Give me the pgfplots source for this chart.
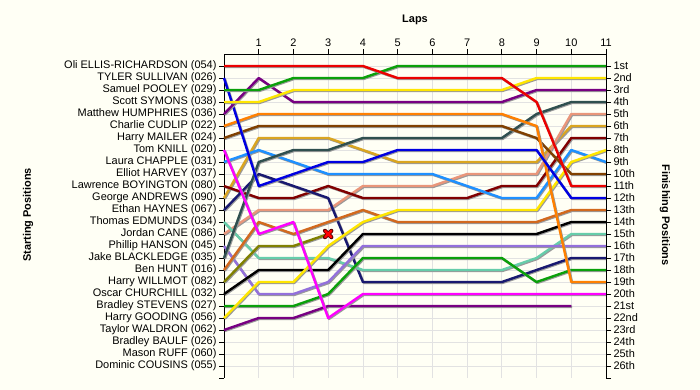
\documentclass[border=0pt]{standalone}
\usepackage{fontspec}
\setmainfont{Liberation Sans}
\usepackage{pgfplots}
\pgfplotsset{compat=1.18}
\definecolor{bgc}{RGB}{255,255,245}
\definecolor{cRed}{RGB}{235,0,0}
\definecolor{cBlue}{RGB}{0,0,225}
\definecolor{cGreen}{RGB}{10,160,10}
\definecolor{cYellow}{RGB}{255,230,0}
\definecolor{cPurple}{RGB}{120,0,130}
\definecolor{cOrange}{RGB}{255,128,0}
\definecolor{cBrown}{RGB}{128,64,0}
\definecolor{cMagenta}{RGB}{255,0,255}
\definecolor{cLBlue}{RGB}{30,144,255}
\definecolor{cMaroon}{RGB}{128,0,0}
\definecolor{cGold}{RGB}{218,165,32}
\definecolor{cNavy}{RGB}{25,25,112}
\definecolor{cTurq}{RGB}{102,205,170}
\definecolor{cSalmon}{RGB}{233,150,122}
\definecolor{cLav}{RGB}{147,112,219}
\definecolor{cSlate}{RGB}{47,79,79}
\definecolor{cChoc}{RGB}{210,105,30}
\definecolor{cOlive}{RGB}{128,128,0}
\definecolor{gridc}{RGB}{226,226,226}
\tikzset{rl/.style={no markers, line width=2.4bp, line join=round,
  preaction={draw=black!40, line width=2.4bp, transform canvas={xshift=0.9bp,yshift=-0.9bp}}}}
\begin{document}
\begin{tikzpicture}
\useasboundingbox (0,0) rectangle (700bp,-390bp);
\fill[bgc] (0,0) rectangle (700bp,-390bp);
\begin{axis}[
  at={(224bp,-378bp)}, anchor=south west,
  width=382bp, height=324bp, scale only axis,
  xmin=0, xmax=11, ymin=0, ymax=27, y dir=reverse,
  axis y line*=left, axis x line*=top,
  axis line style={-, black, line width=0.8bp},
  xtick={1,...,11},
  ytick={1,...,26},
  yticklabels={Oli ELLIS-RICHARDSON (054),TYLER SULLIVAN (026),Samuel POOLEY (029),Scott SYMONS (038),Matthew HUMPHRIES (036),Charlie CUDLIP (022),Harry MAILER (024),Tom KNILL (020),Laura CHAPPLE (031),Elliot HARVEY (037),Lawrence BOYINGTON (080),George ANDREWS (090),Ethan HAYNES (067),Thomas EDMUNDS (034),Jordan CANE (086),Phillip HANSON (045),Jake BLACKLEDGE (035),Ben HUNT (016),Harry WILLMOT (082),Oscar CHURCHILL (032),Bradley STEVENS (027),Harry GOODING (056),Taylor WALDRON (062),Bradley BAULF (026),Mason RUFF (060),Dominic COUSINS (055)},
  extra y ticks={27}, extra y tick labels={}, extra y tick style={grid=none},
  grid=major, grid style={gridc, line width=0.8bp},
  tick align=outside, major tick length=5bp,
  tick style={black, line width=0.8bp},
  tick label style={font=\fontsize{11}{13}\selectfont},
  yticklabel style={xshift=1bp},
  xticklabel style={yshift=-1bp},
  /pgf/number format/assume math mode=true,
  clip=false,
]
\addplot[rl, cGold] coordinates {(0,12)(1,7)(2,7)(3,7)(4,8)(5,9)(6,9)(7,9)(8,9)(9,9)(10,6)(11,6)};
\addplot[rl, cSalmon] coordinates {(0,15)(1,13)(2,13)(3,13)(4,11)(5,11)(6,11)(7,10)(8,10)(9,10)(10,5)(11,5)};
\addplot[rl, cMaroon] coordinates {(0,11)(1,12)(2,12)(3,11)(4,12)(5,12)(6,12)(7,12)(8,11)(9,11)(10,7)(11,7)};
\addplot[rl, cLBlue] coordinates {(0,9)(1,8)(2,9)(3,10)(4,10)(5,10)(6,10)(7,11)(8,12)(9,12)(10,8)(11,9)};
\addplot[rl, cNavy] coordinates {(0,13)(1,10)(2,11)(3,12)(4,19)(5,19)(6,19)(7,19)(8,19)(9,18)(10,17)(11,17)};
\addplot[rl, cTurq] coordinates {(0,14)(1,17)(2,17)(3,17)(4,18)(5,18)(6,18)(7,18)(8,18)(9,17)(10,15)(11,15)};
\addplot[rl, cLav] coordinates {(0,16)(1,20)(2,20)(3,19)(4,16)(5,16)(6,16)(7,16)(8,16)(9,16)(10,16)(11,16)};
\addplot[rl, cSlate] coordinates {(0,17)(1,9)(2,8)(3,8)(4,7)(5,7)(6,7)(7,7)(8,7)(9,5)(10,4)(11,4)};
\addplot[rl, cChoc] coordinates {(0,18)(1,14)(2,15)(3,14)(4,13)(5,14)(6,14)(7,14)(8,14)(9,14)(10,13)(11,13)};
\addplot[rl, cOlive] coordinates {(0,19)(1,16)(2,16)(3,15)};
\addplot[rl, black] coordinates {(0,20)(1,18)(2,18)(3,18)(4,15)(5,15)(6,15)(7,15)(8,15)(9,15)(10,14)(11,14)};
\addplot[rl, cGreen] coordinates {(0,21)(1,21)(2,21)(3,20)(4,17)(5,17)(6,17)(7,17)(8,17)(9,19)(10,18)(11,18)};
\addplot[rl, cYellow] coordinates {(0,22)(1,19)(2,19)(3,16)(4,14)(5,13)(6,13)(7,13)(8,13)(9,13)(10,9)(11,8)};
\addplot[rl, cPurple] coordinates {(0,23)(1,22)(2,22)(3,21)(4,21)(5,21)(6,21)(7,21)(8,21)(9,21)(10,21)};
\addplot[rl, cMagenta] coordinates {(0,8)(1,15)(2,14)(3,22)(4,20)(5,20)(6,20)(7,20)(8,20)(9,20)(10,20)(11,20)};
\addplot[rl, cBrown] coordinates {(0,7)(1,6)(2,6)(3,6)(4,6)(5,6)(6,6)(7,6)(8,6)(9,7)(10,10)(11,10)};
\addplot[rl, cOrange] coordinates {(0,6)(1,5)(2,5)(3,5)(4,5)(5,5)(6,5)(7,5)(8,5)(9,6)(10,19)(11,19)};
\addplot[rl, cBlue] coordinates {(0,2)(1,11)(2,10)(3,9)(4,9)(5,8)(6,8)(7,8)(8,8)(9,8)(10,12)(11,12)};
\addplot[rl, cPurple] coordinates {(0,5)(1,2)(2,4)(3,4)(4,4)(5,4)(6,4)(7,4)(8,4)(9,3)(10,3)(11,3)};
\addplot[rl, cYellow] coordinates {(0,4)(1,4)(2,3)(3,3)(4,3)(5,3)(6,3)(7,3)(8,3)(9,2)(10,2)(11,2)};
\addplot[rl, cGreen] coordinates {(0,3)(1,3)(2,2)(3,2)(4,2)(5,1)(6,1)(7,1)(8,1)(9,1)(10,1)(11,1)};
\addplot[rl, cRed] coordinates {(0,1)(1,1)(2,1)(3,1)(4,1)(5,2)(6,2)(7,2)(8,2)(9,4)(10,11)(11,11)};
\addplot[only marks, mark=x, mark size=4.6bp, mark options={draw=cMaroon!70!black, line width=4bp, line cap=round}] coordinates {(3,15)};
\addplot[only marks, mark=x, mark size=4.3bp, mark options={draw=red, line width=2.4bp, line cap=round}] coordinates {(3,15)};
\end{axis}
\begin{axis}[
  at={(224bp,-378bp)}, anchor=south west,
  width=382bp, height=324bp, scale only axis,
  xmin=0, xmax=11, ymin=0, ymax=27, y dir=reverse,
  axis y line*=right, axis x line=none,
  axis line style={-, black, line width=0.8bp},
  ytick={1,...,26},
  yticklabels={1st,2nd,3rd,4th,5th,6th,7th,8th,9th,10th,11th,12th,13th,14th,15th,16th,17th,18th,19th,20th,21st,22nd,23rd,24th,25th,26th},
  extra y ticks={27}, extra y tick labels={},
  tick align=outside, major tick length=5bp,
  tick style={black, line width=0.8bp},
  tick label style={font=\fontsize{11}{13}\selectfont},
  yticklabel style={xshift=-1bp},
]
\addplot[draw=none] coordinates {(0,1)};
\end{axis}
\node[font=\bfseries\fontsize{11}{13}\selectfont] at (415bp,-20bp) {Laps};
\node[rotate=90, font=\bfseries\fontsize{11}{13}\selectfont] at (28bp,-215bp) {Starting Positions};
\node[rotate=-90, font=\bfseries\fontsize{11}{13}\selectfont] at (665bp,-215bp) {Finishing Positions};
\end{tikzpicture}
\end{document}
